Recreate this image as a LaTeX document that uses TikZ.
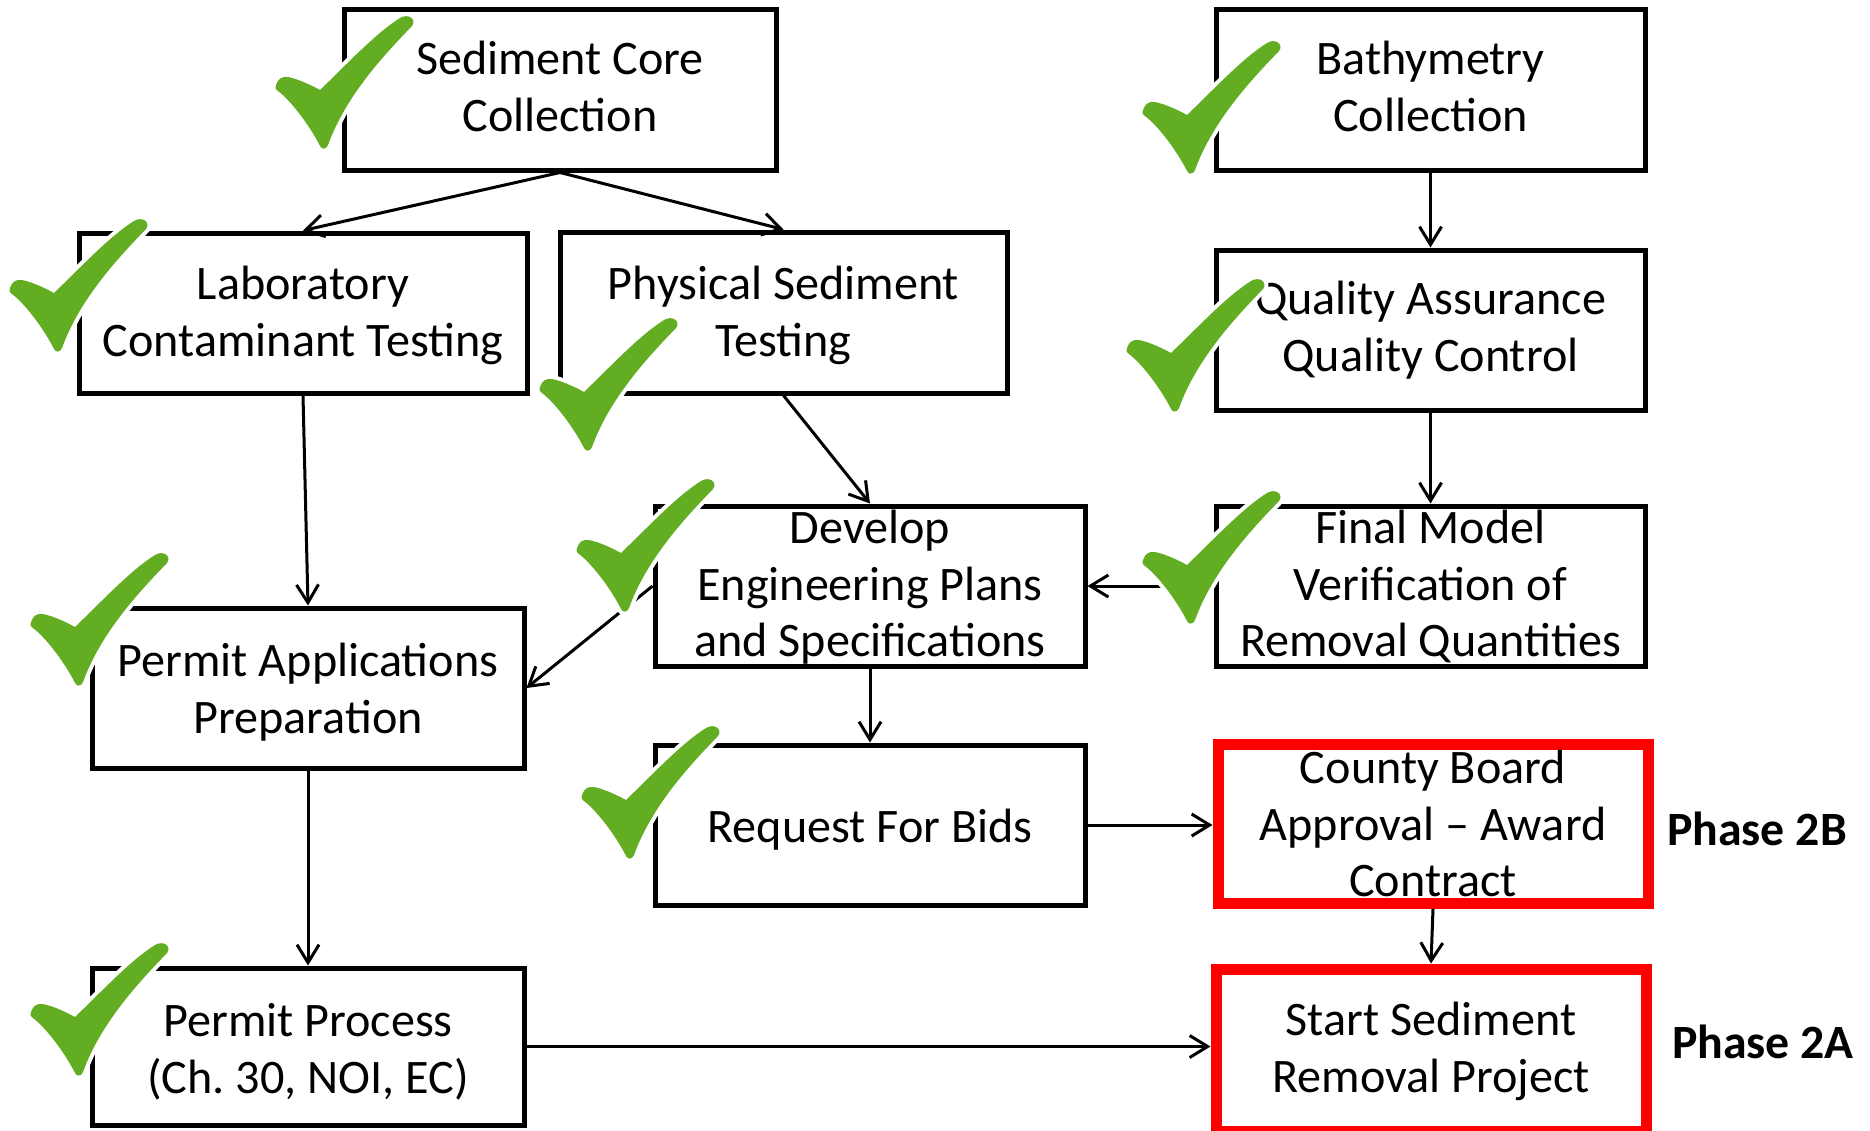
\documentclass[tikz,border=0pt]{standalone}
\usepackage{fontspec}
\setmainfont{Carlito}
\usetikzlibrary{arrows.meta}
\definecolor{tickgreen}{RGB}{99,173,34}
\definecolor{phasered}{RGB}{255,0,0}

\begin{document}
\begin{tikzpicture}[x=0.1mm, y=-0.1mm,
  box/.style 2 args={draw=black, fill=white, line width=0.5mm, rectangle,
    inner sep=0pt, minimum width=#1, minimum height=#2},
  redbox/.style 2 args={box={#1}{#2}, draw=phasered, line width=1.1mm},
  txt/.style={font=\fontsize{13.7pt}{16.2pt}\selectfont, align=center, inner sep=0pt},
  phase/.style={font=\fontsize{13.6pt}{16.2pt}\selectfont\bfseries, inner sep=0pt},
  arr/.style={draw=black, line width=0.3mm, -{Straight Barb[length=1.8mm, width=2.2mm]}},
  donemark/.pic={
    \fill[tickgreen, preaction={draw=white, line width=0.8mm, line join=round}]
      (0,0) .. controls (2,-6) and (6,-9) .. (12,-8)
      .. controls (22,-6) and (35,0) .. (44,5)
      .. controls (72,-22) and (100,-52) .. (124,-67)
      .. controls (132,-72) and (141,-66) .. (136,-59)
      .. controls (110,-32) and (70,10) .. (52,60)
      .. controls (50,65) and (45,65) .. (43,59)
      .. controls (32,38) and (14,15) .. (2,6)
      .. controls (-1,4) and (-1,2) .. (0,0) -- cycle;
  }]

\clip (0,0) rectangle (1870,1130);
\fill[white] (0,0) rectangle (1870,1130);

% process boxes
\node[box={43.2mm}{16.1mm}] (sc)    at (560,89.5)   {};
\node[box={42.9mm}{16.1mm}] (bathy) at (1430.5,89.5) {};
\node[box={44.8mm}{16.0mm}] (lab)   at (303,313)    {};
\node[box={44.7mm}{16.1mm}] (phys)  at (783.5,312.5) {};
\node[box={42.9mm}{16.0mm}] (qa)    at (1430.5,330) {};
\node[box={43.0mm}{16.0mm}] (dev)   at (870,586)    {};
\node[box={42.9mm}{16.0mm}] (fin)   at (1430.5,586) {};
\node[box={43.2mm}{16.0mm}] (papp)  at (308,688)    {};
\node[box={43.0mm}{16.0mm}] (rfb)   at (870,825)    {};
\node[box={43.2mm}{15.7mm}] (pp)    at (308,1046.5) {};
\node[redbox={43.0mm}{15.9mm}] (cb)  at (1433,823.5) {};
\node[redbox={43.0mm}{16.2mm}] (ssr) at (1431,1050)  {};

% connectors
\draw[arr] (sc.south) -- (lab.north);
\draw[arr] (sc.south) -- (phys.north);
\draw[arr] (bathy.south) -- (qa.north);
\draw[arr] (lab.south) -- (papp.north);
\draw[arr] (phys.south) -- (dev.north);
\draw[arr] (qa.south) -- (fin.north);
\draw[arr] (fin.west) -- (fin.west -| dev.east);
\draw[arr] (dev.west) -- (papp.east);
\draw[arr] (dev.south) -- (rfb.north);
\draw[arr] (rfb.east) -- (rfb.east -| cb.west);
\draw[arr] (cb.south) -- (ssr.north);
\draw[arr] (papp.south) -- (pp.north);
\draw[arr] (pp.east) -- (pp.east -| ssr.west);

% box texts
\node[txt] (sc-t)    at (560,92)     {\strut Sediment Core\\Collection\strut};
\node[txt] (bathy-t) at (1430.5,92)  {\strut Bathymetry\\Collection\strut};
\node[txt] (lab-t)   at (303,317)    {\strut Laboratory\\Contaminant Testing\strut};
\node[txt] (phys-t)  at (783.5,317)  {\strut Physical Sediment\\Testing\strut};
\node[txt] (qa-t)    at (1430.5,332) {\strut Quality Assurance\\Quality Control\strut};
\node[txt] (dev-t)   at (870,588.6)  {\strut Develop\\Engineering Plans\\and Specifications\strut};
\node[txt] (fin-t)   at (1430.5,588.6) {\strut Final Model\\Verification of\\Removal Quantities\strut};
\node[txt] (papp-t)  at (308,693.6)  {\strut Permit Applications\\Preparation\strut};
\node[txt] (rfb-t)   at (870,830.6)  {\strut Request For Bids\strut};
\node[txt] (cb-t)    at (1433,828.6) {\strut County Board\\Approval – Award\\Contract\strut};
\node[txt] (pp-t)    at (308,1053.6) {\strut Permit Process\\(Ch.\ 30, NOI, EC)\strut};
\node[txt] (ssr-t)   at (1431,1052.6) {\strut Start Sediment\\Removal Project\strut};

% phase labels
\node[phase, anchor=base] (p2b) at (1757,845)  {Phase 2B};
\node[phase, anchor=base] (p2a) at (1763,1058) {Phase 2A};

% completion marks
\pic at (276,85)   {donemark};
\pic at (1143,110) {donemark};
\pic at (10,288)   {donemark};
\pic at (540,387)  {donemark};
\pic at (1127,348) {donemark};
\pic at (577,548)  {donemark};
\pic at (1143,560) {donemark};
\pic at (31,622)   {donemark};
\pic at (582,795)  {donemark};
\pic at (31,1012)  {donemark};

\end{tikzpicture}
\end{document}
